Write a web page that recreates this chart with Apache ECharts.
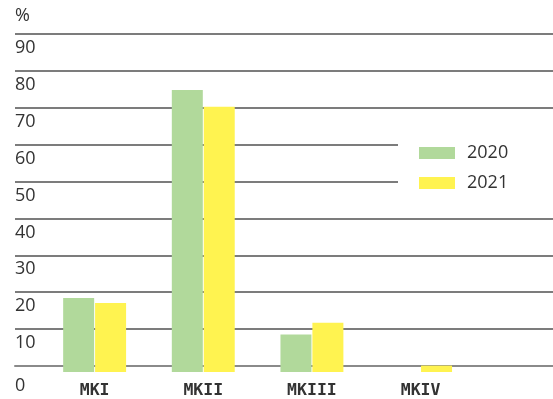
<!DOCTYPE html>
<html>
<head>
<meta charset="utf-8">
<script src="https://cdn.jsdelivr.net/npm/echarts@6/dist/echarts.min.js"></script>
<style>html,body{margin:0;padding:0;background:#fff}#c{width:553px;height:399px}</style>
</head>
<body>
<div id="c"></div>
<script>
const categories = ['MKI', 'MKII', 'MKIII', 'MKIV'];
const seriesNames = ['2020', '2021'];
const values2020 = [19.7, 75.1, 10.0, 0];
const values2021 = [18.4, 70.6, 13.1, 1.7];
const yMin = 0;
const yMax = 90;
const yStep = 10;
const unitLabel = '%';

const chart = echarts.init(document.getElementById('c'), null, {renderer: 'canvas'});
const font = 'Open Sans';
chart.setOption({
  animation: false,
  backgroundColor: '#fff',
  grid: [
    {left: 15, right: 0, top: 34, bottom: 33.1, containLabel: false},
    {left: 40.3, right: 78.1, top: 34, bottom: 25.7, containLabel: false}
  ],
  legend: {
    data: seriesNames,
    orient: 'vertical',
    left: 398,
    top: 124,
    padding: [20, 60, 20, 21],
    itemWidth: 36,
    itemHeight: 12,
    itemGap: 12,
    backgroundColor: '#fff',
    icon: 'rect',
    textStyle: {fontFamily: font, fontSize: 18, color: '#333', padding: [0, 0, 0, 7]},
    z: 10
  },
  xAxis: [
    {
      gridIndex: 0, type: 'value', min: 0, max: 1, offset: 7.4,
      axisLine: {show: true, lineStyle: {color: '#8a8a8a', width: 2}},
      axisTick: {show: false}, axisLabel: {show: false}, splitLine: {show: false}
    },
    {
      gridIndex: 1, type: 'category', data: categories,
      axisLine: {show: false}, axisTick: {show: false},
      axisLabel: {fontFamily: 'DejaVu Sans Mono', fontWeight: 'bold', fontSize: 16.5, color: '#333', margin: 10}
    }
  ],
  yAxis: [
    {
      gridIndex: 0, type: 'value', min: yMin, max: yMax, interval: yStep,
      name: unitLabel, nameLocation: 'end', nameGap: 18,
      nameTextStyle: {fontFamily: font, fontSize: 18, color: '#333', align: 'left', verticalAlign: 'middle'},
      axisLine: {show: false}, axisTick: {show: false},
      axisLabel: {
        inside: true, margin: 0, fontFamily: font, fontSize: 18, color: '#333',
        verticalAlign: 'top', padding: [5, 0, 0, 0],
        formatter: v => (v === 0 ? '' : String(v))
      },
      splitLine: {show: true, showMinLine: false, lineStyle: {color: '#505050', width: 1.5}}
    },
    {
      gridIndex: 1, type: 'value', min: yMin, max: yMax, interval: yStep,
      axisLine: {show: false}, axisTick: {show: false},
      axisLabel: {
        align: 'left', margin: 25.3, fontFamily: font, fontSize: 18, color: '#333',
        verticalAlign: 'top', padding: [5, 0, 0, 0],
        formatter: v => (v === 0 ? '0' : '')
      },
      splitLine: {show: false}
    }
  ],
  series: [
    {name: seriesNames[0], type: 'bar', xAxisIndex: 1, yAxisIndex: 1, data: values2020,
     barWidth: 31, barGap: '3%', itemStyle: {color: '#b1d99b'}},
    {name: seriesNames[1], type: 'bar', xAxisIndex: 1, yAxisIndex: 1, data: values2021,
     barWidth: 31, barGap: '3%', itemStyle: {color: '#fff350'}}
  ]
});
</script>
</body>
</html>
